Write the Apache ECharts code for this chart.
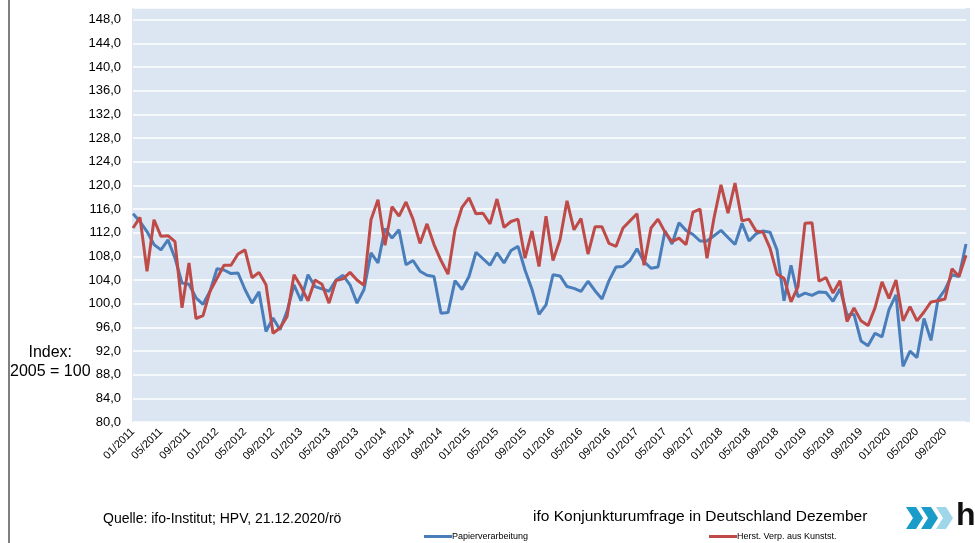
<!DOCTYPE html>
<html>
<head>
<meta charset="utf-8">
<script src="https://cdn.jsdelivr.net/npm/echarts@6/dist/echarts.min.js"></script>
<style>
html,body{margin:0;padding:0;background:#fff;}
#chart{width:975px;height:543px;}
</style>
</head>
<body>
<div id="chart"></div>
<script>
// Monatskategorien 01/2011 .. 12/2020
var years = [2011, 2012, 2013, 2014, 2015, 2016, 2017, 2018, 2019, 2020];
var months = ['01','02','03','04','05','06','07','08','09','10','11','12'];
var categories = [];
for (var y = 0; y < years.length; y++) {
    for (var m = 0; m < months.length; m++) {
        categories.push(months[m] + '/' + years[y]);
    }
}

var seriesNames = ['Papierverarbeitung', 'Herst. Verp. aus Kunstst.'];

var papier = [
    115.2,113.9,112.2,110.0,109.1,110.8,107.7,103.5,103.3,101.0,99.9,102.1,
    105.9,105.7,105.1,105.2,102.4,100.1,102.0,95.3,97.6,95.6,98.7,103.2,
    100.5,104.9,102.9,102.5,102.1,104.0,104.8,103.2,100.1,102.4,108.6,106.9,
    112.7,111.1,112.5,106.6,107.3,105.5,104.8,104.6,98.4,98.5,103.9,102.4,
    104.6,108.7,107.6,106.5,108.6,106.9,109.0,109.7,105.7,102.4,98.2,99.8,
    104.9,104.7,102.9,102.6,102.1,103.8,102.2,100.8,103.9,106.2,106.3,107.3,
    109.3,107.1,106.0,106.2,112.3,110.1,113.7,112.4,111.7,110.6,110.6,111.5,
    112.4,111.2,110.0,113.6,110.6,111.8,112.3,112.1,109.1,100.5,106.5,101.2,
    101.8,101.4,102.0,101.9,100.4,102.5,98.1,98.2,93.7,92.9,95.0,94.4,
    99.0,101.5,89.4,92.0,90.9,97.5,93.8,100.7,102.4,104.9,104.6,110.1
];

var kunststoff = [
    112.8,114.6,105.5,114.2,111.4,111.5,110.5,99.3,106.9,97.5,98.0,102.1,
    104.3,106.5,106.5,108.4,109.1,104.4,105.3,103.2,95.0,95.9,97.8,104.9,
    102.9,100.5,104.0,103.3,100.1,103.9,104.2,105.3,104.0,103.1,114.2,117.6,
    109.9,116.4,114.8,117.2,114.3,110.2,113.5,110.0,107.3,105.0,112.5,116.3,
    117.9,115.2,115.3,113.5,117.7,112.9,113.9,114.3,107.7,112.3,106.3,114.8,
    107.3,110.8,117.4,112.5,114.4,108.4,113.0,113.0,110.2,109.7,112.8,114.0,
    115.2,106.5,112.8,114.3,112.1,110.5,111.1,110.0,115.5,116.0,107.7,114.5,
    120.1,115.3,120.4,114.0,114.3,112.3,112.1,109.4,105.0,104.3,100.3,102.9,
    113.6,113.7,103.8,104.4,101.8,103.9,97.0,99.3,97.1,96.3,99.3,103.7,
    100.9,104.0,97.1,99.5,97.1,98.6,100.3,100.5,100.8,105.9,104.6,108.2
];

var font = 'Liberation Sans, Arial, sans-serif';

var myChart = echarts.init(document.getElementById('chart'));
var option = {
    animation: false,
    textStyle: { fontFamily: font },
    grid: {
        left: 133,
        right: 9,
        top: 8,
        bottom: 121
    },
    legend: [{
        data: [seriesNames[0]],
        left: 424,
        top: 532,
        padding: 0,
        icon: 'rect',
        itemWidth: 28,
        itemHeight: 3,
        textStyle: { fontSize: 9, color: '#000', fontFamily: font, padding: [0, 0, 0, -5] }
    }, {
        data: [seriesNames[1]],
        left: 709,
        top: 532,
        padding: 0,
        icon: 'rect',
        itemWidth: 28,
        itemHeight: 3,
        textStyle: { fontSize: 9, color: '#000', fontFamily: font, padding: [0, 0, 0, -5] }
    }],
    xAxis: {
        type: 'category',
        data: categories,
        boundaryGap: false,
        axisLine: { show: false },
        axisTick: { show: false },
        axisLabel: {
            interval: 3,
            rotate: 45,
            fontSize: 11,
            color: '#000',
            margin: 8,
            fontFamily: font
        }
    },
    yAxis: {
        type: 'value',
        min: 80,
        max: 150,
        interval: 4,
        axisLine: { show: false },
        axisTick: { show: false },
        splitLine: { lineStyle: { color: '#ffffff', width: 1.5 } },
        axisLabel: {
            showMaxLabel: false,
            fontSize: 13,
            color: '#000',
            margin: 12,
            fontFamily: font,
            formatter: function (v) {
                return v.toFixed(1).replace('.', ',');
            }
        }
    },
    graphic: [
        { type: 'rect', z: -100, shape: { x: 132, y: 8, width: 838, height: 414 }, style: { fill: '#dce6f2' } },
        { type: 'line', shape: { x1: 9, y1: 0, x2: 9, y2: 543 }, style: { stroke: '#7f7f7f', lineWidth: 2 } },
        { type: 'text', left: 10, top: 343, style: { text: 'Index:\n2005 = 100', fill: '#000', font: '16px ' + font, textAlign: 'center', lineHeight: 19 } },
        { type: 'text', left: 103, top: 512, style: { text: 'Quelle: ifo-Institut; HPV, 21.12.2020/rö', fill: '#000', font: '14px ' + font } },
        { type: 'text', left: 533, top: 509, style: { text: 'ifo Konjunkturumfrage in Deutschland Dezember', fill: '#000', font: '15.5px ' + font } },
        { type: 'polygon', shape: { points: [[906, 507], [916, 507], [923, 518], [916, 529], [906, 529], [913, 518]] }, style: { fill: '#1a9cc9' } },
        { type: 'polygon', shape: { points: [[921, 507], [931, 507], [938, 518], [931, 529], [921, 529], [928, 518]] }, style: { fill: '#1a9cc9' } },
        { type: 'polygon', shape: { points: [[936, 507], [946, 507], [953, 518], [946, 529], [936, 529], [943, 518]] }, style: { fill: '#9fd6ea' } },
        { type: 'text', left: 956, top: 500, style: { text: 'h', fill: '#111', font: 'bold 32px ' + font } }
    ],
    series: [{
        name: seriesNames[0],
        type: 'line',
        data: papier,
        showSymbol: false,
        symbol: 'none',
        lineStyle: { color: '#4a7ebb', width: 3 },
        itemStyle: { color: '#4a7ebb' }
    }, {
        name: seriesNames[1],
        type: 'line',
        data: kunststoff,
        showSymbol: false,
        symbol: 'none',
        lineStyle: { color: '#be4b48', width: 3 },
        itemStyle: { color: '#be4b48' }
    }]
};
myChart.setOption(option);
</script>
</body>
</html>
